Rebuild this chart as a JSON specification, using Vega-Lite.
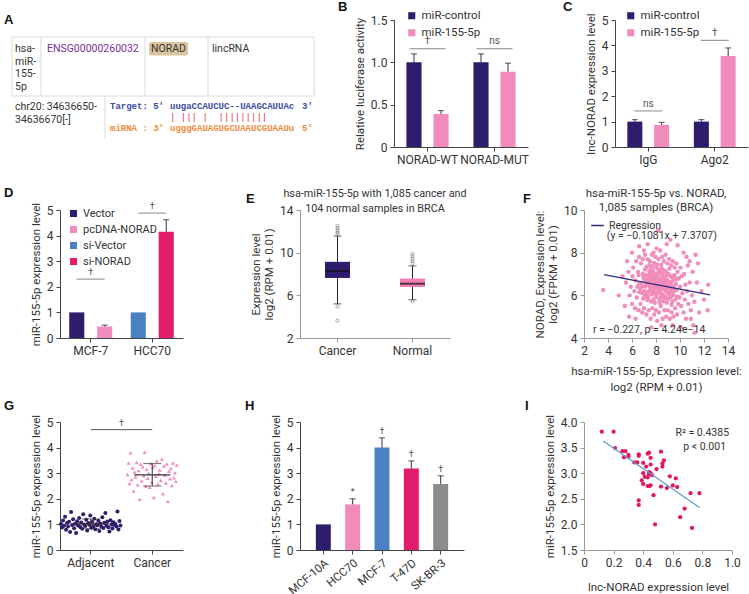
{
"$schema":"https://vega.github.io/schema/vega-lite/v6.json",
"padding":{"left":4,"top":1,"right":0,"bottom":0},
"background":"white",
"config":{
 "view":{"stroke":null},
 "font":"Roboto",
 "axis":{"grid":false,"labelFont":"Roboto","titleFont":"Roboto","labelFontSize":12,"labelColor":"#333","titleFontSize":11.5,"titleFontWeight":"normal","titleColor":"#333","domainColor":"#444","tickColor":"#444","tickSize":4,"labelPadding":3,"titlePadding":5,"labelOverlap":false},
 "axisX":{"labelAngle":0},
 "legend":{"title":null,"labelFont":"Roboto","labelFontSize":11.5,"labelColor":"#333","symbolType":"square","symbolSize":50,"symbolStrokeWidth":0,"rowPadding":4,"orient":"none"},
 "title":{"font":"Liberation Sans","fontSize":13,"fontWeight":"bold","anchor":"start","frame":"group","color":"#111","offset":4}
},
"columns":4,
"align":"each",
"bounds":"flush",
"spacing":{"row":42,"column":0},
"resolve":{"scale":{"color":"independent","shape":"independent","x":"independent","y":"independent","xOffset":"independent"},"legend":{"color":"independent","shape":"independent"}},
"concat":[
  {"width":240,"height":127,
   "title":{"text":"A","dx":-56,"dy":11},
   "encoding":{
     "x":{"field":"x","type":"quantitative","scale":{"domain":[60,300],"nice":false,"zero":false},"axis":null},
     "y":{"field":"y","type":"quantitative","scale":{"domain":[23,150],"nice":false,"zero":false,"reverse":true},"axis":null}},
   "layer":[
    {"data":{"values":[
      {"x":12,"x2":314,"y":40,"y2":40},{"x":12,"x2":314,"y":99,"y2":99},
      {"x":12,"x2":12,"y":40,"y2":99},{"x":41,"x2":41,"y":40,"y2":99},
      {"x":145,"x2":145,"y":40,"y2":99},{"x":208,"x2":208,"y":40,"y2":99},
      {"x":314,"x2":314,"y":40,"y2":99},{"x":105,"x2":105,"y":99,"y2":142}]},
     "mark":{"type":"rule","color":"#dadada","strokeWidth":1},
     "encoding":{"x2":{"field":"x2"},"y2":{"field":"y2"}}},
    {"data":{"values":[{"x":149,"x2":188,"y":45,"y2":58.5}]},
     "mark":{"type":"rect","color":"#dcc39f","cornerRadius":2},
     "encoding":{"x2":{"field":"x2"},"y2":{"field":"y2"}}},
    {"data":{"values":[
      {"x":15,"y":52,"t":"hsa-"},{"x":15,"y":64.7,"t":"miR-"},{"x":15,"y":77.4,"t":"155-"},{"x":15,"y":90,"t":"5p"},
      {"x":151,"y":52,"t":"NORAD"},{"x":212,"y":52,"t":"lincRNA"},
      {"x":15,"y":110,"t":"chr20: 34636650-"},{"x":15,"y":123,"t":"34636670[-]"}]},
     "mark":{"type":"text","align":"left","baseline":"middle","fontSize":10.5,"color":"#333"},
     "encoding":{"text":{"field":"t"}}},
    {"data":{"values":[{"x":47,"y":52,"t":"ENSG00000260032"}]},
     "mark":{"type":"text","align":"left","baseline":"middle","fontSize":10.5,"color":"#7a2e9a"},
     "encoding":{"text":{"field":"t"}}},
    {"data":{"values":[{"x":110,"y":109,"t":"Target: 5′"},{"x":170,"y":109,"t":"uugaCCAUCUC--UAAGCAUUAc"},{"x":302,"y":109,"t":"3′"}]},
     "mark":{"type":"text","align":"left","baseline":"middle","font":"Liberation Mono","fontWeight":"bold","fontSize":9,"color":"#3b4aa3"},
     "encoding":{"text":{"field":"t"}}},
    {"data":{"values":[{"x":110,"y":131,"t":"miRNA : 3′"},{"x":170,"y":131,"t":"ugggGAUAGUGCUAAUCGUAAUu"},{"x":302,"y":131,"t":"5′"}]},
     "mark":{"type":"text","align":"left","baseline":"middle","font":"Liberation Mono","fontWeight":"bold","fontSize":9,"color":"#ee8a3c"},
     "encoding":{"text":{"field":"t"}}},
    {"data":{"values":[{"x":170,"y":120,"t":"\u00a0\u00a0\u00a0\u00a0|\u00a0|||\u00a0|\u00a0\u00a0|||||||||"}]},
     "mark":{"type":"text","align":"left","baseline":"middle","font":"Liberation Mono","fontSize":9,"color":"#e0304a"},
     "encoding":{"text":{"field":"t"}}}
   ]},
  {"width":284,"height":127,
    "title":{"text":"B","dx":38,"dy":8},
    "data":{"values":[
      {"g":"NORAD-WT","s":"miR-control","v":1.0,"hi":1.1},
      {"g":"NORAD-WT","s":"miR-155-5p","v":0.39,"hi":0.43},
      {"g":"NORAD-MUT","s":"miR-control","v":1.0,"hi":1.1},
      {"g":"NORAD-MUT","s":"miR-155-5p","v":0.89,"hi":0.99}]},
    "layer":[
     {"mark":{"type":"bar"},
      "encoding":{
       "x":{"field":"g","type":"nominal","sort":["NORAD-WT","NORAD-MUT"],"title":null,"scale":{"paddingInner":0,"paddingOuter":0,"range":[94,228]},"axis":{"labelOverlap":false}},
       "xOffset":{"field":"s","type":"nominal","sort":["miR-control","miR-155-5p"],"scale":{"paddingInner":0.44,"paddingOuter":0.46}},
       "y":{"field":"v","type":"quantitative","title":"Relative luciferase activity","scale":{"domain":[0,1.5],"nice":false},"axis":{"offset":-94,"values":[0,0.5,1,1.5],"tickCount":20,"labelOverlap":false,"labelFlush":false,"labelExpr":"datum.value == 0 ? '0' : format(datum.value, '.1f')"}},
       "color":{"field":"s","type":"nominal","sort":["miR-control","miR-155-5p"],"scale":{"domain":["miR-control","miR-155-5p"],"range":["#2e1c6c","#f18bbb"]},"legend":{"orient":"none","legendX":106,"legendY":-10}}}},
     {"mark":{"type":"rule","color":"#3a2a4a"},
      "encoding":{
       "x":{"field":"g","type":"nominal","sort":["NORAD-WT","NORAD-MUT"],"title":null},
       "xOffset":{"field":"s","type":"nominal","sort":["miR-control","miR-155-5p"]},
       "y":{"field":"v","type":"quantitative","title":"Relative luciferase activity"},"y2":{"field":"hi"}}},
     {"mark":{"type":"tick","color":"#3a2a4a","size":6,"thickness":1.2},
      "encoding":{
       "x":{"field":"g","type":"nominal","sort":["NORAD-WT","NORAD-MUT"],"title":null},
       "xOffset":{"field":"s","type":"nominal","sort":["miR-control","miR-155-5p"]},
       "y":{"field":"hi","type":"quantitative","title":"Relative luciferase activity"}}},
     {"data":{"values":[{"g":"NORAD-WT","y":1.16,"ty":1.19,"t":"†"},{"g":"NORAD-MUT","y":1.16,"ty":1.19,"t":"ns"}]},
      "mark":{"type":"tick","color":"#555","size":36,"thickness":1},
      "encoding":{
       "x":{"field":"g","type":"nominal","sort":["NORAD-WT","NORAD-MUT"],"title":null},
       "y":{"field":"y","type":"quantitative","title":"Relative luciferase activity"}}},
     {"data":{"values":[{"g":"NORAD-WT","y":1.16,"ty":1.19,"t":"†"},{"g":"NORAD-MUT","y":1.16,"ty":1.19,"t":"ns"}]},
      "mark":{"type":"text","baseline":"bottom","fontSize":10,"color":"#555"},
      "encoding":{
       "x":{"field":"g","type":"nominal","sort":["NORAD-WT","NORAD-MUT"],"title":null},
       "y":{"field":"ty","type":"quantitative","title":"Relative luciferase activity"},
       "text":{"field":"t"}}}
    ]},
  {"width":164,"height":127,
    "title":{"text":"C","dx":-21,"dy":8},
    "data":{"values":[
      {"g":"IgG","s":"miR-control","v":1.0,"hi":1.08},
      {"g":"IgG","s":"miR-155-5p","v":0.87,"hi":0.97},
      {"g":"Ago2","s":"miR-control","v":1.0,"hi":1.08},
      {"g":"Ago2","s":"miR-155-5p","v":3.58,"hi":3.9}]},
    "layer":[
     {"mark":{"type":"bar"},
      "encoding":{
       "x":{"field":"g","type":"nominal","sort":["IgG","Ago2"],"title":null,"scale":{"paddingInner":0,"paddingOuter":0,"range":[31,164]},"axis":{"labelOverlap":false}},
       "xOffset":{"field":"s","type":"nominal","sort":["miR-control","miR-155-5p"],"scale":{"paddingInner":0.44,"paddingOuter":0.46}},
       "y":{"field":"v","type":"quantitative","title":"lnc-NORAD expression level","scale":{"domain":[0,5],"nice":false},"axis":{"offset":-31,"values":[0,1,2,3,4,5],"tickCount":20,"format":"d","labelOverlap":false,"labelFlush":false}},
       "color":{"field":"s","type":"nominal","sort":["miR-control","miR-155-5p"],"scale":{"domain":["miR-control","miR-155-5p"],"range":["#2e1c6c","#f18bbb"]},"legend":{"orient":"none","legendX":41,"legendY":-10}}}},
     {"mark":{"type":"rule","color":"#3a2a4a"},
      "encoding":{
       "x":{"field":"g","type":"nominal","sort":["IgG","Ago2"],"title":null},
       "xOffset":{"field":"s","type":"nominal","sort":["miR-control","miR-155-5p"]},
       "y":{"field":"v","type":"quantitative","title":"lnc-NORAD expression level"},"y2":{"field":"hi"}}},
     {"mark":{"type":"tick","color":"#3a2a4a","size":6,"thickness":1.2},
      "encoding":{
       "x":{"field":"g","type":"nominal","sort":["IgG","Ago2"],"title":null},
       "xOffset":{"field":"s","type":"nominal","sort":["miR-control","miR-155-5p"]},
       "y":{"field":"hi","type":"quantitative","title":"lnc-NORAD expression level"}}},
     {"data":{"values":[{"g":"IgG","y":1.42,"ty":1.5,"t":"ns"},{"g":"Ago2","y":4.2,"ty":4.28,"t":"†"}]},
      "mark":{"type":"tick","color":"#555","size":28,"thickness":1},
      "encoding":{
       "x":{"field":"g","type":"nominal","sort":["IgG","Ago2"],"title":null},
       "y":{"field":"y","type":"quantitative","title":"lnc-NORAD expression level"}}},
     {"data":{"values":[{"g":"IgG","y":1.42,"ty":1.5,"t":"ns"},{"g":"Ago2","y":4.2,"ty":4.28,"t":"†"}]},
      "mark":{"type":"text","baseline":"bottom","fontSize":10,"color":"#555"},
      "encoding":{
       "x":{"field":"g","type":"nominal","sort":["IgG","Ago2"],"title":null},
       "y":{"field":"ty","type":"quantitative","title":"lnc-NORAD expression level"},
       "text":{"field":"t"}}}
    ]},
  {"width":1,"height":148,"data":{"values":[]},"mark":"point"},

  {"width":123,"height":128,
    "title":{"text":"D","dx":-56,"dy":2},
    "data":{"values":[
      {"g":"MCF-7","p":"a","c":"Vector","v":1.0,"hi":1.0},
      {"g":"MCF-7","p":"b","c":"pcDNA-NORAD","v":0.45,"hi":0.5},
      {"g":"HCC70","p":"a","c":"si-Vector","v":1.0,"hi":1.0},
      {"g":"HCC70","p":"b","c":"si-NORAD","v":4.15,"hi":4.62}]},
    "layer":[
     {"mark":{"type":"bar"},
      "encoding":{
       "x":{"field":"g","type":"nominal","sort":["MCF-7","HCC70"],"title":null,"scale":{"paddingInner":0,"paddingOuter":0},"axis":{"labelOverlap":false}},
       "xOffset":{"field":"p","type":"nominal","scale":{"paddingInner":0.46,"paddingOuter":0.33}},
       "y":{"field":"v","type":"quantitative","title":"miR-155-5p expression level","scale":{"domain":[0,5],"nice":false},"axis":{"values":[0,1,2,3,4,5],"tickCount":20,"format":"d","labelOverlap":false,"labelFlush":false}},
       "color":{"field":"c","type":"nominal","sort":["Vector","pcDNA-NORAD","si-Vector","si-NORAD"],"scale":{"domain":["Vector","pcDNA-NORAD","si-Vector","si-NORAD"],"range":["#2e1c6c","#f18bbb","#4b80c3","#e31c6c"]},"legend":{"orient":"none","legendX":8,"legendY":-2,"labelFontSize":11}}}},
     {"mark":{"type":"rule","color":"#3a2a4a"},
      "encoding":{
       "x":{"field":"g","type":"nominal","sort":["MCF-7","HCC70"],"title":null},
       "xOffset":{"field":"p","type":"nominal"},
       "y":{"field":"v","type":"quantitative","title":"miR-155-5p expression level"},"y2":{"field":"hi"}}},
     {"mark":{"type":"tick","color":"#3a2a4a","size":6,"thickness":1.2},
      "transform":[{"filter":"datum.hi > datum.v"}],
      "encoding":{
       "x":{"field":"g","type":"nominal","sort":["MCF-7","HCC70"],"title":null},
       "xOffset":{"field":"p","type":"nominal"},
       "y":{"field":"hi","type":"quantitative","title":"miR-155-5p expression level"}}},
     {"data":{"values":[{"g":"MCF-7","y":2.3,"ty":2.38,"t":"†"},{"g":"HCC70","y":4.88,"ty":4.96,"t":"†"}]},
      "mark":{"type":"tick","color":"#555","size":28,"thickness":1},
      "encoding":{
       "x":{"field":"g","type":"nominal","sort":["MCF-7","HCC70"],"title":null},
       "y":{"field":"y","type":"quantitative","title":"miR-155-5p expression level"}}},
     {"data":{"values":[{"g":"MCF-7","y":2.3,"ty":2.38,"t":"†"},{"g":"HCC70","y":4.88,"ty":4.96,"t":"†"}]},
      "mark":{"type":"text","baseline":"bottom","fontSize":9,"color":"#555"},
      "encoding":{
       "x":{"field":"g","type":"nominal","sort":["MCF-7","HCC70"],"title":null},
       "y":{"field":"ty","type":"quantitative","title":"miR-155-5p expression level"},
       "text":{"field":"t"}}}
    ]},
  {"width":150,"height":128,
      "title":{"text":"E","dx":-54,"dy":22},
      "data":{"values":[
        {"g":"Cancer","lo":5.2,"q1":7.63,"med":8.29,"q3":9.14,"hi":11.56},
        {"g":"Normal","lo":5.58,"q1":6.78,"med":7.09,"q3":7.57,"hi":8.76}]},
      "layer":[
       {"mark":{"type":"rule","color":"#222"},
        "encoding":{
         "x":{"field":"g","type":"nominal","sort":["Cancer","Normal"],"title":null,"scale":{"paddingInner":0,"paddingOuter":0},"axis":{"domainColor":"#999","tickColor":"#999","labelOverlap":false}},
         "y":{"field":"lo","type":"quantitative","title":["Expression level","log2 (RPM + 0.01)"],"scale":{"domain":[2,14],"nice":false,"zero":false},"axis":{"values":[2,6,10,14],"tickCount":20,"format":"d","domainColor":"#999","tickColor":"#999","labelOverlap":false,"labelFlush":false}},
         "y2":{"field":"hi"}}},
       {"mark":{"type":"tick","color":"#222","size":8,"thickness":1},
        "encoding":{
         "x":{"field":"g","type":"nominal","sort":["Cancer","Normal"],"title":null},
         "y":{"field":"lo","type":"quantitative","title":["Expression level","log2 (RPM + 0.01)"]}}},
       {"mark":{"type":"tick","color":"#222","size":8,"thickness":1},
        "encoding":{
         "x":{"field":"g","type":"nominal","sort":["Cancer","Normal"],"title":null},
         "y":{"field":"hi","type":"quantitative","title":["Expression level","log2 (RPM + 0.01)"]}}},
       {"mark":{"type":"bar","size":25},
        "encoding":{
         "x":{"field":"g","type":"nominal","sort":["Cancer","Normal"],"title":null},
         "y":{"field":"q1","type":"quantitative","title":["Expression level","log2 (RPM + 0.01)"]},"y2":{"field":"q3"},
         "color":{"field":"g","type":"nominal","scale":{"domain":["Cancer","Normal"],"range":["#2e1c6c","#f07fb6"]},"legend":null}}},
       {"mark":{"type":"tick","color":"#111","size":25,"thickness":2},
        "encoding":{
         "x":{"field":"g","type":"nominal","sort":["Cancer","Normal"],"title":null},
         "y":{"field":"med","type":"quantitative","title":["Expression level","log2 (RPM + 0.01)"]}}},
       {"data":{"values":[
         {"g":"Cancer","v":12.5},{"g":"Cancer","v":12.3},{"g":"Cancer","v":12.1},{"g":"Cancer","v":11.9},{"g":"Cancer","v":11.75},{"g":"Cancer","v":4.95},{"g":"Cancer","v":3.63},
         {"g":"Normal","v":9.9},{"g":"Normal","v":9.67},{"g":"Normal","v":9.45},{"g":"Normal","v":9.23},{"g":"Normal","v":9.0},{"g":"Normal","v":5.45}]},
        "mark":{"type":"point","shape":"circle","size":10,"filled":false,"color":"#666","strokeWidth":0.8},
        "encoding":{
         "x":{"field":"g","type":"nominal","sort":["Cancer","Normal"],"title":null},
         "y":{"field":"v","type":"quantitative","title":["Expression level","log2 (RPM + 0.01)"]}}},
       {"data":{"values":[{"g":"Cancer","y":15.5,"t":"hsa-miR-155-5p with 1,085 cancer and"},{"g":"Cancer","y":14.12,"t":"104 normal samples in BRCA"}]},
        "mark":{"type":"text","baseline":"middle","align":"center","fontSize":10.8,"color":"#333"},
        "encoding":{
         "x":{"field":"g","type":"nominal","sort":["Cancer","Normal"],"title":null,"bandPosition":1},
         "y":{"field":"y","type":"quantitative","title":["Expression level","log2 (RPM + 0.01)"]},
         "text":{"field":"t"}}}
      ]},
  {"width":144,"height":128,
      "title":{"text":"F","dx":-61,"dy":22},
      "layer":[
       {"data":{"values":[
{"x":6.82,"y":6.12},{"x":6.75,"y":6.58},{"x":6.9,"y":7.02},{"x":6.7,"y":6.31},{"x":6.95,"y":6.88},
{"x":7.05,"y":5.92},{"x":7.1,"y":6.41},{"x":6.98,"y":6.79},{"x":7.08,"y":7.22},{"x":7.02,"y":6.2},{"x":7.12,"y":6.63},
{"x":7.25,"y":6.02},{"x":7.18,"y":6.52},{"x":7.3,"y":6.91},{"x":7.22,"y":7.33},{"x":7.28,"y":5.78},{"x":7.15,"y":6.72},
{"x":7.42,"y":6.21},{"x":7.38,"y":6.6},{"x":7.45,"y":7.12},{"x":7.35,"y":5.88},{"x":7.48,"y":6.42},{"x":7.4,"y":6.93},{"x":7.44,"y":7.41},
{"x":7.62,"y":6.03},{"x":7.58,"y":6.32},{"x":7.65,"y":6.71},{"x":7.55,"y":7.04},{"x":7.6,"y":5.71},{"x":7.68,"y":6.5},{"x":7.57,"y":7.22},
{"x":7.82,"y":6.11},{"x":7.78,"y":6.4},{"x":7.85,"y":6.83},{"x":7.75,"y":7.13},{"x":7.8,"y":5.82},{"x":7.88,"y":6.61},{"x":7.76,"y":6.92},{"x":7.84,"y":7.52},
{"x":8.02,"y":5.93},{"x":7.98,"y":6.22},{"x":8.05,"y":6.52},{"x":7.95,"y":6.72},{"x":8.08,"y":7.01},{"x":8.0,"y":7.31},{"x":8.03,"y":6.02},{"x":7.97,"y":6.43},{"x":8.06,"y":6.81},
{"x":8.22,"y":6.12},{"x":8.18,"y":6.33},{"x":8.25,"y":6.62},{"x":8.15,"y":6.92},{"x":8.2,"y":7.21},{"x":8.28,"y":5.81},{"x":8.24,"y":6.51},{"x":8.17,"y":7.03},
{"x":8.42,"y":5.91},{"x":8.38,"y":6.22},{"x":8.45,"y":6.53},{"x":8.35,"y":6.82},{"x":8.4,"y":7.12},{"x":8.48,"y":6.01},{"x":8.37,"y":6.62},{"x":8.44,"y":7.42},
{"x":8.62,"y":6.02},{"x":8.58,"y":6.41},{"x":8.65,"y":6.72},{"x":8.55,"y":7.01},{"x":8.6,"y":5.72},{"x":8.68,"y":6.31},{"x":8.57,"y":6.92},
{"x":8.82,"y":5.92},{"x":8.78,"y":6.21},{"x":8.85,"y":6.52},{"x":8.75,"y":6.83},{"x":8.8,"y":7.11},{"x":8.88,"y":6.42},
{"x":9.02,"y":5.83},{"x":8.98,"y":6.12},{"x":9.05,"y":6.43},{"x":8.95,"y":6.71},{"x":9.0,"y":7.02},{"x":9.08,"y":6.32},
{"x":9.22,"y":5.91},{"x":9.18,"y":6.31},{"x":9.25,"y":6.62},{"x":9.15,"y":6.93},{"x":9.2,"y":6.11},
{"x":9.42,"y":6.02},{"x":9.38,"y":6.41},{"x":9.45,"y":6.72},{"x":9.35,"y":5.71},{"x":9.4,"y":6.22},
{"x":9.62,"y":5.81},{"x":9.58,"y":6.22},{"x":9.65,"y":6.53},{"x":9.55,"y":6.91},
{"x":6.88,"y":6.42},{"x":6.92,"y":5.85},{"x":7.15,"y":6.95},{"x":7.05,"y":6.05},{"x":7.35,"y":6.75},{"x":7.32,"y":6.15},{"x":7.5,"y":6.85},{"x":7.52,"y":6.25},{"x":7.7,"y":6.15},{"x":7.72,"y":6.95},
{"x":7.7,"y":7.35},{"x":7.9,"y":6.25},{"x":7.92,"y":6.95},{"x":7.9,"y":5.65},{"x":8.1,"y":6.35},{"x":8.12,"y":6.65},{"x":8.1,"y":7.45},{"x":8.3,"y":6.45},{"x":8.32,"y":7.05},{"x":8.3,"y":5.65},
{"x":8.5,"y":6.35},{"x":8.52,"y":6.75},{"x":8.5,"y":7.25},{"x":8.7,"y":6.55},{"x":8.72,"y":5.85},{"x":8.7,"y":7.15},{"x":8.9,"y":6.35},{"x":8.92,"y":6.95},{"x":8.9,"y":5.65},{"x":9.1,"y":6.55},
{"x":9.12,"y":6.05},{"x":9.1,"y":7.25},{"x":9.3,"y":6.45},{"x":9.32,"y":6.85},{"x":9.3,"y":5.55},{"x":9.5,"y":6.35},{"x":9.52,"y":6.95},{"x":9.7,"y":6.25},{"x":9.72,"y":6.75},{"x":9.75,"y":5.95},
{"x":6.6,"y":6.55},{"x":6.55,"y":6.95},{"x":6.62,"y":6.15},{"x":7.95,"y":6.55},{"x":8.35,"y":6.15},{"x":8.15,"y":6.75},{"x":7.6,"y":6.85},{"x":8.75,"y":6.65},{"x":9.0,"y":6.55},{"x":7.45,"y":6.55},
{"x":5.5,"y":6.6},{"x":5.7,"y":7.1},{"x":5.8,"y":6.0},{"x":5.9,"y":6.4},{"x":6.0,"y":5.6},{"x":6.05,"y":6.9},{"x":6.1,"y":7.3},{"x":6.2,"y":6.2},{"x":6.25,"y":5.4},{"x":6.3,"y":6.7},
{"x":6.35,"y":7.6},{"x":6.4,"y":5.9},{"x":6.45,"y":6.4},{"x":6.5,"y":7.1},{"x":6.55,"y":5.3},{"x":6.6,"y":7.8},{"x":6.7,"y":5.6},{"x":6.75,"y":7.5},{"x":6.85,"y":5.2},{"x":6.9,"y":7.7},
{"x":7.0,"y":5.4},{"x":7.1,"y":7.9},{"x":7.2,"y":5.1},{"x":7.3,"y":7.7},{"x":7.4,"y":5.3},{"x":7.5,"y":7.6},{"x":7.55,"y":4.9},{"x":7.65,"y":7.9},{"x":7.7,"y":5.4},{"x":7.8,"y":8.0},
{"x":7.85,"y":5.1},{"x":7.95,"y":7.8},{"x":8.0,"y":5.3},{"x":8.05,"y":8.2},{"x":8.1,"y":4.8},{"x":8.2,"y":7.7},{"x":8.25,"y":5.2},{"x":8.35,"y":8.1},{"x":8.4,"y":5.5},{"x":8.5,"y":7.8},
{"x":8.55,"y":4.9},{"x":8.65,"y":7.6},{"x":8.7,"y":5.3},{"x":8.8,"y":7.9},{"x":8.85,"y":5.0},{"x":8.95,"y":7.5},{"x":9.0,"y":5.3},{"x":9.1,"y":7.7},{"x":9.15,"y":4.9},{"x":9.25,"y":7.4},
{"x":9.3,"y":5.2},{"x":9.4,"y":7.6},{"x":9.45,"y":5.0},{"x":9.55,"y":7.3},{"x":9.6,"y":5.4},{"x":9.7,"y":7.5},{"x":9.75,"y":5.1},{"x":9.8,"y":7.1},{"x":9.85,"y":5.6},{"x":9.9,"y":6.8},
{"x":9.95,"y":5.9},{"x":10.0,"y":6.4},{"x":10.05,"y":7.3},{"x":10.1,"y":5.5},{"x":10.15,"y":6.9},{"x":10.2,"y":6.1},{"x":10.3,"y":5.2},{"x":10.35,"y":7.0},{"x":10.4,"y":5.8},{"x":10.45,"y":6.5},
{"x":10.5,"y":4.9},{"x":10.6,"y":6.2},{"x":10.65,"y":7.4},{"x":10.7,"y":5.6},{"x":10.8,"y":6.6},{"x":10.9,"y":5.3},{"x":11.0,"y":6.0},{"x":11.05,"y":7.1},{"x":11.1,"y":4.6},{"x":11.2,"y":5.7},
{"x":3.6,"y":6.25},{"x":4.9,"y":6.0},{"x":5.2,"y":6.9},{"x":5.4,"y":5.5},{"x":5.6,"y":7.6},{"x":5.75,"y":5.0},{"x":6.0,"y":8.0},{"x":6.3,"y":4.9},{"x":6.6,"y":8.3},{"x":7.0,"y":8.1},
{"x":7.3,"y":8.4},{"x":7.6,"y":4.5},{"x":8.2,"y":9.05},{"x":8.45,"y":4.6},{"x":8.9,"y":8.4},{"x":9.2,"y":8.6},{"x":9.4,"y":4.6},{"x":9.8,"y":8.35},{"x":10.1,"y":4.5},{"x":10.3,"y":8.0},
{"x":10.55,"y":7.8},{"x":10.9,"y":4.9},{"x":11.2,"y":4.25},{"x":11.4,"y":6.6},{"x":11.5,"y":7.5},{"x":11.6,"y":5.2},{"x":11.8,"y":6.2},{"x":12.0,"y":5.8},{"x":12.3,"y":5.3},{"x":12.35,"y":6.5},
{"x":11.3,"y":7.9},{"x":10.8,"y":7.6}]},
        "mark":{"type":"circle","size":19,"opacity":1,"color":"#f28cba"},
        "encoding":{
         "x":{"field":"x","type":"quantitative","title":["hsa-miR-155-5p, Expression level:","log2 (RPM + 0.01)"],"scale":{"domain":[2,14],"nice":false,"zero":false},"axis":{"values":[2,4,6,8,10,12,14],"tickCount":20,"format":"d","domainColor":"#999","tickColor":"#999","labelOverlap":false,"labelFlush":false,"titleLineHeight":16,"titlePadding":9}},
         "y":{"field":"y","type":"quantitative","title":["NORAD, Expression level:","log2 (FPKM + 0.01)"],"scale":{"domain":[4,10],"nice":false,"zero":false},"axis":{"values":[4,6,8,10],"tickCount":20,"format":"d","domainColor":"#999","tickColor":"#999","labelOverlap":false,"labelFlush":false}}}},
       {"data":{"values":[{"x":3.67,"y":6.97,"s":"Regression"},{"x":12.5,"y":6.02,"s":"Regression"}]},
        "mark":{"type":"line","strokeWidth":1.2},
        "encoding":{
         "x":{"field":"x","type":"quantitative","title":["hsa-miR-155-5p, Expression level:","log2 (RPM + 0.01)"]},
         "y":{"field":"y","type":"quantitative","title":["NORAD, Expression level:","log2 (FPKM + 0.01)"]},
         "color":{"field":"s","type":"nominal","scale":{"range":["#2d2a7a"]},"legend":{"orient":"none","legendX":6,"legendY":8,"symbolType":"stroke","symbolStrokeWidth":1.5,"symbolSize":160,"labelFontSize":10.5}}}},
       {"data":{"values":[{"x":3.9,"y":8.8,"t":"(y = −0.1081x + 7.3707)"},{"x":2.75,"y":4.38,"t":"r = −0.227, p = 4.24e−14"}]},
        "mark":{"type":"text","align":"left","baseline":"middle","fontSize":10.5,"color":"#333"},
        "encoding":{
         "x":{"field":"x","type":"quantitative","title":["hsa-miR-155-5p, Expression level:","log2 (RPM + 0.01)"]},
         "y":{"field":"y","type":"quantitative","title":["NORAD, Expression level:","log2 (FPKM + 0.01)"]},
         "text":{"field":"t"}}},
       {"data":{"values":[{"x":8,"y":10.75,"t":"hsa-miR-155-5p vs. NORAD,"},{"x":8,"y":10.1,"t":"1,085 samples (BRCA)"}]},
        "mark":{"type":"text","align":"center","baseline":"middle","fontSize":11.5,"color":"#333"},
        "encoding":{
         "x":{"field":"x","type":"quantitative","title":["hsa-miR-155-5p, Expression level:","log2 (RPM + 0.01)"]},
         "y":{"field":"y","type":"quantitative","title":["NORAD, Expression level:","log2 (FPKM + 0.01)"]},
         "text":{"field":"t"}}}
      ]},
  {"width":1,"height":170,"data":{"values":[]},"mark":"point"},

  {"width":123,"height":128,
    "title":{"text":"G","dx":-56,"dy":3},
    "layer":[
     {"data":{"values":[
{"g":"Adjacent","id":1,"v":1.02},{"g":"Adjacent","id":2,"v":0.88},{"g":"Adjacent","id":3,"v":1.15},{"g":"Adjacent","id":4,"v":0.95},{"g":"Adjacent","id":5,"v":1.3},
{"g":"Adjacent","id":6,"v":0.79},{"g":"Adjacent","id":7,"v":1.05},{"g":"Adjacent","id":8,"v":0.92},{"g":"Adjacent","id":9,"v":1.1},{"g":"Adjacent","id":10,"v":0.7},
{"g":"Adjacent","id":11,"v":1.48},{"g":"Adjacent","id":12,"v":0.98},{"g":"Adjacent","id":13,"v":1.2},{"g":"Adjacent","id":14,"v":0.85},{"g":"Adjacent","id":15,"v":1.03},
{"g":"Adjacent","id":16,"v":0.66},{"g":"Adjacent","id":17,"v":1.12},{"g":"Adjacent","id":18,"v":0.96},{"g":"Adjacent","id":19,"v":1.25},{"g":"Adjacent","id":20,"v":0.9},
{"g":"Adjacent","id":21,"v":1.07},{"g":"Adjacent","id":22,"v":0.83},{"g":"Adjacent","id":23,"v":1.4},{"g":"Adjacent","id":24,"v":1.0},{"g":"Adjacent","id":25,"v":0.94},
{"g":"Adjacent","id":26,"v":1.18},{"g":"Adjacent","id":27,"v":0.76},{"g":"Adjacent","id":28,"v":1.05},{"g":"Adjacent","id":29,"v":0.99},{"g":"Adjacent","id":30,"v":1.35},
{"g":"Adjacent","id":31,"v":0.87},{"g":"Adjacent","id":32,"v":1.09},{"g":"Adjacent","id":33,"v":0.93},{"g":"Adjacent","id":34,"v":1.22},{"g":"Adjacent","id":35,"v":0.81},
{"g":"Adjacent","id":36,"v":1.01},{"g":"Adjacent","id":37,"v":0.97},{"g":"Adjacent","id":38,"v":1.14},{"g":"Adjacent","id":39,"v":0.74},{"g":"Adjacent","id":40,"v":1.04},
{"g":"Adjacent","id":41,"v":0.91},{"g":"Adjacent","id":42,"v":1.28},{"g":"Adjacent","id":43,"v":0.86},{"g":"Adjacent","id":44,"v":1.06},{"g":"Adjacent","id":45,"v":1.45},
{"g":"Adjacent","id":46,"v":0.95},{"g":"Adjacent","id":47,"v":1.11},{"g":"Adjacent","id":48,"v":0.89},{"g":"Adjacent","id":49,"v":0.72},{"g":"Adjacent","id":50,"v":1.16},
{"g":"Adjacent","id":51,"v":1.0},{"g":"Adjacent","id":52,"v":0.84},{"g":"Adjacent","id":53,"v":1.08},{"g":"Adjacent","id":54,"v":0.98},{"g":"Adjacent","id":55,"v":1.02},
{"g":"Adjacent","id":56,"v":0.92},{"g":"Adjacent","id":57,"v":1.5},{"g":"Adjacent","id":58,"v":0.8},{"g":"Adjacent","id":59,"v":1.13},{"g":"Adjacent","id":60,"v":0.96},
{"g":"Cancer","id":6,"v":2.95},{"g":"Cancer","id":7,"v":3.4},{"g":"Cancer","id":8,"v":2.6},{"g":"Cancer","id":9,"v":3.8},{"g":"Cancer","id":10,"v":2.75},
{"g":"Cancer","id":11,"v":3.2},{"g":"Cancer","id":12,"v":2.3},{"g":"Cancer","id":13,"v":3.05},{"g":"Cancer","id":14,"v":2.85},{"g":"Cancer","id":15,"v":3.42},
{"g":"Cancer","id":16,"v":2.55},{"g":"Cancer","id":17,"v":3.1},{"g":"Cancer","id":18,"v":1.98},{"g":"Cancer","id":19,"v":3.35},{"g":"Cancer","id":20,"v":2.7},
{"g":"Cancer","id":21,"v":3.25},{"g":"Cancer","id":22,"v":2.9},{"g":"Cancer","id":23,"v":3.82},{"g":"Cancer","id":24,"v":2.5},{"g":"Cancer","id":25,"v":3.15},
{"g":"Cancer","id":26,"v":2.8},{"g":"Cancer","id":27,"v":3.0},{"g":"Cancer","id":28,"v":2.45},{"g":"Cancer","id":29,"v":3.38},{"g":"Cancer","id":30,"v":2.65},
{"g":"Cancer","id":31,"v":3.22},{"g":"Cancer","id":32,"v":2.05},{"g":"Cancer","id":33,"v":3.3},{"g":"Cancer","id":34,"v":2.88},{"g":"Cancer","id":35,"v":3.48},
{"g":"Cancer","id":36,"v":2.58},{"g":"Cancer","id":37,"v":2.98},{"g":"Cancer","id":38,"v":3.12},{"g":"Cancer","id":39,"v":2.72},{"g":"Cancer","id":40,"v":3.55},
{"g":"Cancer","id":41,"v":2.2},{"g":"Cancer","id":42,"v":3.28},{"g":"Cancer","id":43,"v":2.92},{"g":"Cancer","id":44,"v":2.62},{"g":"Cancer","id":45,"v":3.36},
{"g":"Cancer","id":46,"v":1.9},{"g":"Cancer","id":47,"v":3.08},{"g":"Cancer","id":48,"v":2.78},{"g":"Cancer","id":49,"v":3.18},{"g":"Cancer","id":50,"v":2.52},
{"g":"Cancer","id":51,"v":3.4},{"g":"Cancer","id":52,"v":2.82},{"g":"Cancer","id":53,"v":3.02},{"g":"Cancer","id":54,"v":2.68},{"g":"Cancer","id":55,"v":3.32}]},
      "layer":[
       {"mark":{"type":"point","filled":true,"size":16,"opacity":1},
        "encoding":{
         "x":{"field":"g","type":"nominal","sort":["Adjacent","Cancer"],"title":null,"scale":{"paddingInner":0,"paddingOuter":0},"axis":{"labelOverlap":false}},
         "xOffset":{"field":"id","type":"ordinal","scale":{"paddingOuter":24}},
         "y":{"field":"v","type":"quantitative","title":"miR-155-5p expression level","scale":{"domain":[0,5],"nice":false},"axis":{"values":[0,1,2,3,4,5],"tickCount":20,"format":"d","labelOverlap":false,"labelFlush":false}},
         "color":{"field":"g","type":"nominal","scale":{"domain":["Adjacent","Cancer"],"range":["#2e1c6c","#f18bbb"]},"legend":null},
         "shape":{"field":"g","type":"nominal","scale":{"domain":["Adjacent","Cancer"],"range":["circle","triangle-up"]},"legend":null}}},
       {"mark":{"type":"errorbar","extent":"stdev","color":"#333","ticks":{"size":18,"color":"#333"}},
        "encoding":{
         "x":{"field":"g","type":"nominal","sort":["Adjacent","Cancer"],"title":null},
         "y":{"field":"v","type":"quantitative","title":"miR-155-5p expression level"}}},
       {"mark":{"type":"tick","size":36,"thickness":1.2,"color":"#333"},
        "encoding":{
         "x":{"field":"g","type":"nominal","sort":["Adjacent","Cancer"],"title":null},
         "y":{"aggregate":"mean","field":"v","type":"quantitative","title":"miR-155-5p expression level"}}}
      ]},
     {"data":{"values":[{"a":"Adjacent","b":"Cancer","y":4.7,"ty":4.76,"t":"†"}]},
      "mark":{"type":"rule","color":"#555"},
      "encoding":{
       "x":{"field":"a","type":"nominal","sort":["Adjacent","Cancer"],"title":null},"x2":{"field":"b"},
       "y":{"field":"y","type":"quantitative","title":"miR-155-5p expression level"}}},
     {"data":{"values":[{"a":"Adjacent","b":"Cancer","y":4.7,"ty":4.76,"t":"†"}]},
      "mark":{"type":"text","baseline":"bottom","fontSize":9,"color":"#555"},
      "encoding":{
       "x":{"field":"a","type":"nominal","sort":["Adjacent","Cancer"],"title":null,"bandPosition":1},
       "y":{"field":"ty","type":"quantitative","title":"miR-155-5p expression level"},
       "text":{"field":"t"}}}
    ]},
  {"width":164,"height":128,
     "title":{"text":"H","dx":-55,"dy":3},
     "layer":[
      {"data":{"values":[
        {"g":"MCF-10A","v":1.0,"hi":1.0},{"g":"HCC70","v":1.78,"hi":2.0},{"g":"MCF-7","v":4.0,"hi":4.38},{"g":"T-47D","v":3.18,"hi":3.48},{"g":"SK-BR-3","v":2.58,"hi":2.9}]},
       "layer":[
        {"mark":{"type":"bar"},
         "encoding":{
          "x":{"field":"g","type":"nominal","sort":["MCF-10A","HCC70","MCF-7","T-47D","SK-BR-3"],"title":null,"scale":{"paddingInner":0.49,"paddingOuter":0.54},"axis":{"labelAngle":-40,"labelFontSize":11.5,"labelOverlap":false}},
          "y":{"field":"v","type":"quantitative","title":"miR-155-5p expression level","scale":{"domain":[0,5],"nice":false},"axis":{"values":[0,1,2,3,4,5],"tickCount":20,"format":"d","labelOverlap":false,"labelFlush":false}},
          "color":{"field":"g","type":"nominal","scale":{"domain":["MCF-10A","HCC70","MCF-7","T-47D","SK-BR-3"],"range":["#2e1c6c","#f18bbb","#4b80c3","#e31c6c","#8b8b8b"]},"legend":null}}},
        {"mark":{"type":"rule","color":"#3a2a4a"},
         "encoding":{
          "x":{"field":"g","type":"nominal","sort":["MCF-10A","HCC70","MCF-7","T-47D","SK-BR-3"],"title":null},
          "y":{"field":"v","type":"quantitative","title":"miR-155-5p expression level"},"y2":{"field":"hi"}}},
        {"mark":{"type":"tick","color":"#3a2a4a","size":6,"thickness":1.2},
         "transform":[{"filter":"datum.hi > datum.v"}],
         "encoding":{
          "x":{"field":"g","type":"nominal","sort":["MCF-10A","HCC70","MCF-7","T-47D","SK-BR-3"],"title":null},
          "y":{"field":"hi","type":"quantitative","title":"miR-155-5p expression level"}}}
       ]},
      {"data":{"values":[{"g":"HCC70","ty":2.06,"t":"*"},{"g":"MCF-7","ty":4.45,"t":"†"},{"g":"T-47D","ty":3.55,"t":"†"},{"g":"SK-BR-3","ty":2.97,"t":"†"}]},
       "mark":{"type":"text","baseline":"bottom","fontSize":9,"color":"#555"},
       "encoding":{
        "x":{"field":"g","type":"nominal","sort":["MCF-10A","HCC70","MCF-7","T-47D","SK-BR-3"],"title":null},
        "y":{"field":"ty","type":"quantitative","title":"miR-155-5p expression level"},
        "text":{"field":"t"}}}
     ]},
  {"width":148,"height":128,
     "title":{"text":"I","dx":-59,"dy":3},
     "layer":[
      {"data":{"values":[
{"x":0.12,"y":3.81},{"x":0.2,"y":3.81},{"x":0.21,"y":3.49},{"x":0.26,"y":3.43},{"x":0.28,"y":3.43},{"x":0.27,"y":3.31},{"x":0.3,"y":3.36},{"x":0.3,"y":3.32},{"x":0.34,"y":3.21},{"x":0.36,"y":3.21},
{"x":0.37,"y":3.37},{"x":0.37,"y":3.34},{"x":0.4,"y":3.2},{"x":0.4,"y":3.0},{"x":0.39,"y":2.86},{"x":0.4,"y":2.79},{"x":0.42,"y":3.13},{"x":0.43,"y":3.38},{"x":0.44,"y":3.4},{"x":0.45,"y":3.3},
{"x":0.45,"y":3.17},{"x":0.44,"y":3.02},{"x":0.44,"y":2.98},{"x":0.45,"y":3.0},{"x":0.43,"y":2.92},{"x":0.43,"y":2.75},{"x":0.44,"y":2.75},{"x":0.45,"y":2.76},{"x":0.49,"y":3.08},{"x":0.52,"y":3.42},
{"x":0.53,"y":3.19},{"x":0.53,"y":3.13},{"x":0.54,"y":3.25},{"x":0.52,"y":2.74},{"x":0.56,"y":2.71},{"x":0.58,"y":2.94},{"x":0.62,"y":2.9},{"x":0.6,"y":2.76},{"x":0.63,"y":2.73},{"x":0.72,"y":2.61},
{"x":0.78,"y":2.61},{"x":0.47,"y":2.57},{"x":0.37,"y":2.47},{"x":0.37,"y":2.38},{"x":0.68,"y":2.31},{"x":0.65,"y":2.14},{"x":0.48,"y":2.0},{"x":0.73,"y":1.93},{"x":0.46,"y":2.96},{"x":0.41,"y":2.93}]},
       "mark":{"type":"circle","size":18,"opacity":1,"color":"#e01a5e"},
       "encoding":{
        "x":{"field":"x","type":"quantitative","title":"lnc-NORAD expression level","scale":{"domain":[0,1],"nice":false},"axis":{"values":[0,0.2,0.4,0.6,0.8,1],"tickCount":20,"labelExpr":"datum.value == 0 ? '0' : format(datum.value, '.1f')","domainColor":"#999","tickColor":"#999","labelOverlap":false,"labelFlush":false,"titlePadding":13}},
        "y":{"field":"y","type":"quantitative","title":"miR-155-5p expression level","scale":{"domain":[1.5,4],"nice":false,"zero":false},"axis":{"values":[1.5,2,2.5,3,3.5,4],"tickCount":20,"format":".1f","domainColor":"#999","tickColor":"#999","labelOverlap":false,"labelFlush":false}}}},
      {"data":{"values":[{"x":0.13,"y":3.63},{"x":0.78,"y":2.33}]},
       "mark":{"type":"line","color":"#5b9bd5","strokeWidth":1.2},
       "encoding":{
        "x":{"field":"x","type":"quantitative","title":"lnc-NORAD expression level"},
        "y":{"field":"y","type":"quantitative","title":"miR-155-5p expression level"}}},
      {"data":{"values":[{"x":0.98,"y":3.79,"t":"R² = 0.4385"},{"x":0.96,"y":3.51,"t":"p < 0.001"}]},
       "mark":{"type":"text","align":"right","baseline":"middle","fontSize":10.5,"color":"#333"},
       "encoding":{
        "x":{"field":"x","type":"quantitative","title":"lnc-NORAD expression level"},
        "y":{"field":"y","type":"quantitative","title":"miR-155-5p expression level"},
        "text":{"field":"t"}}}
     ]},
  {"width":1,"height":128,"data":{"values":[]},"mark":"point"}
]
}
